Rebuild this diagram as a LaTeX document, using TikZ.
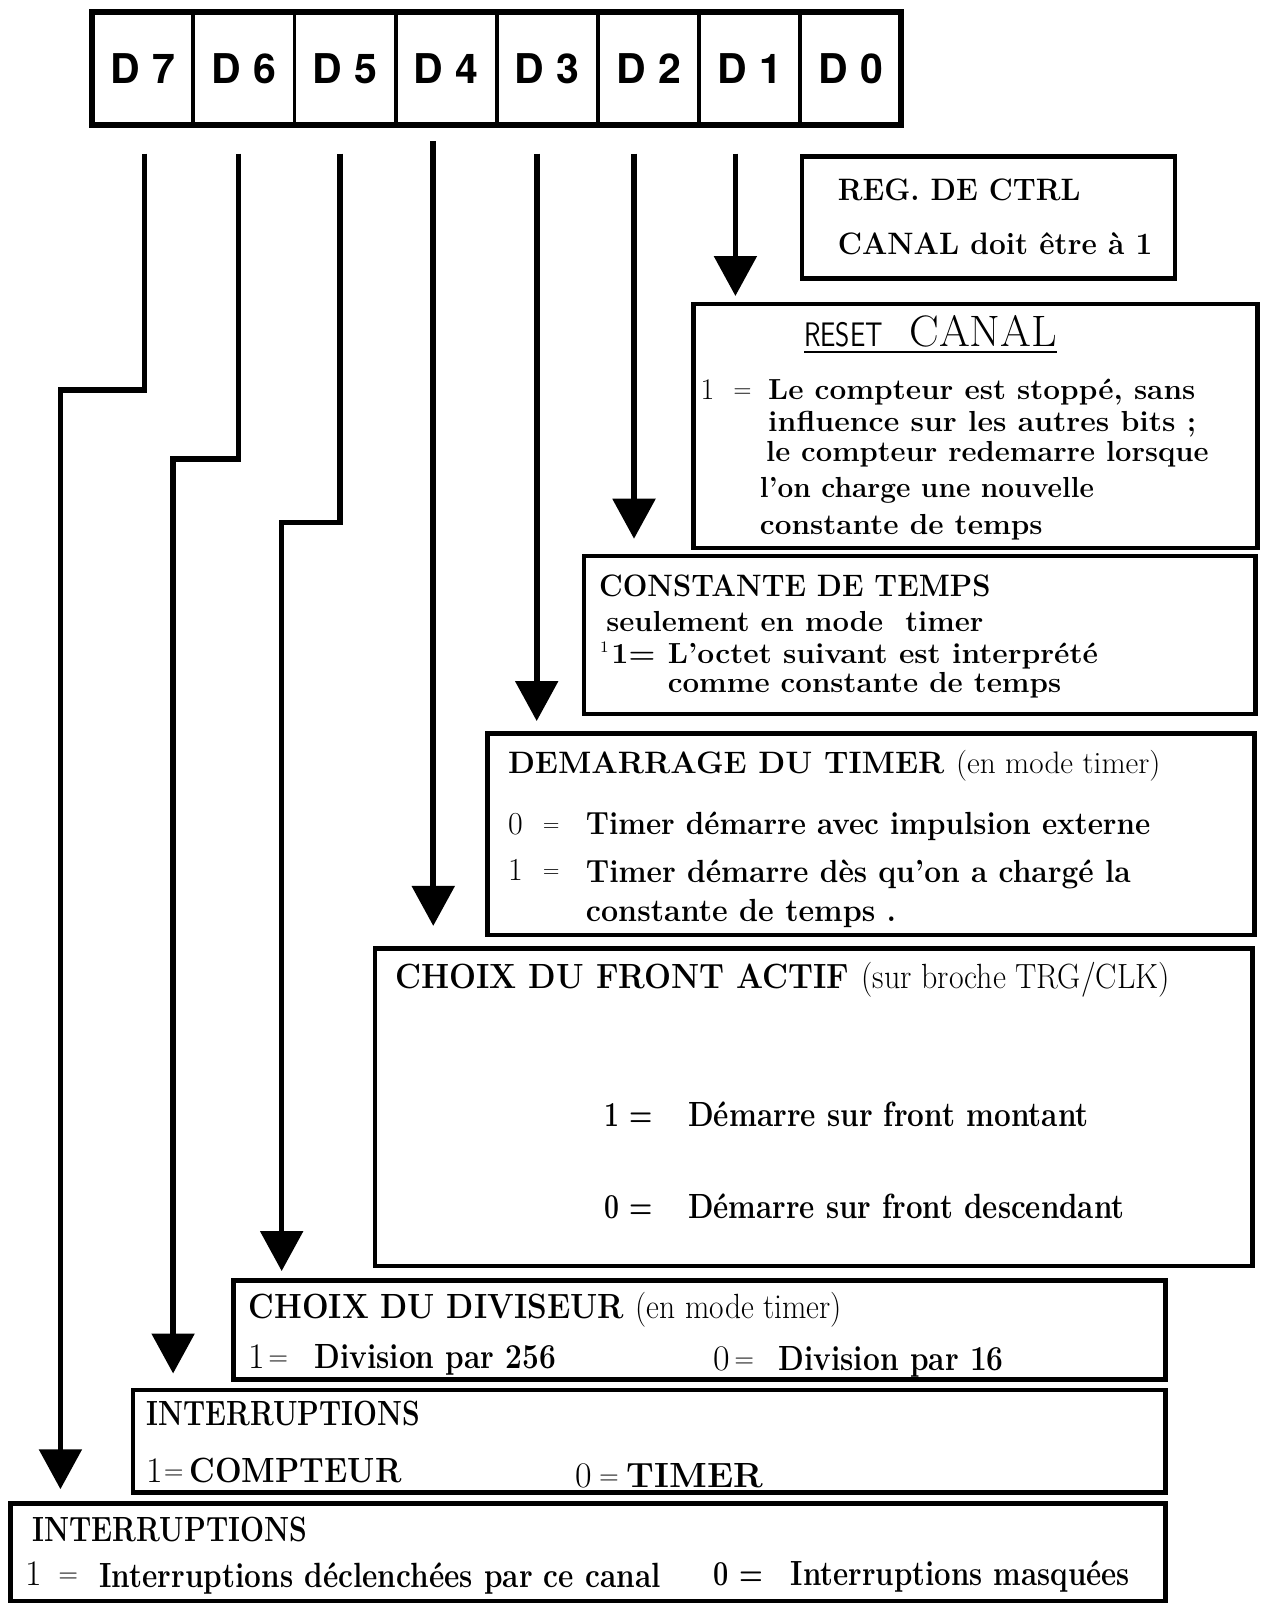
\documentclass[tikz,border=0pt]{standalone}
\usepackage{fontspec}
\usepackage{graphicx}
\newfontfamily\herosfont{TeX Gyre Heros}
\usetikzlibrary{arrows.meta,fit}
\newlength\ux \setlength\ux{0.51215pt}
\newcommand\TT[5]{\node[txt] (#1) at (#2,#3) {\resizebox{#4\ux}{\height}{#5}};}
\newcommand\TN[4]{\node[txt] (#1) at (#2,#3) {#4};}
\newcommand\fzH{\fontsize{15.5}{18}\selectfont\bfseries}
\newcommand\fzB{\fontsize{14.5}{17}\selectfont\bfseries}
\newcommand\fzD{\fontsize{16}{18}\selectfont\bfseries}
\newcommand\fzC{\fontsize{17.5}{20}\selectfont\bfseries}
\newcommand\fzM[1]{\fontsize{#1}{#1}\selectfont\mdseries}
\begin{document}
\begin{tikzpicture}[x=0.51215pt,y=-0.51215pt,
  box/.style={draw=black, line width=2.3pt, inner sep=0pt},
  cell/.style={draw=black, line width=1.9pt, inner sep=0pt},
  regbox/.style={draw=black, line width=3pt, inner sep=0pt},
  txt/.style={anchor=base west, inner sep=0pt, outer sep=0pt},
  conn/.style={line width=2.8pt, -{Triangle[width=21pt,length=20pt]}},
  uline/.style={line width=1.2pt},
  reglab/.style={font=\herosfont\bfseries\fontsize{20.5}{20.5}\selectfont, inner sep=0pt}
]
\fill[white] (0,0) rectangle (1235,1568);
\useasboundingbox (0,0) rectangle (1235,1568);

% register
\foreach \i/\lab in {0/7,1/6,2/5,3/4,4/3,5/2,6/1,7/0}{
  \node[cell, fit={({90+\i*98.75},12) ({90+(\i+1)*98.75},122)}] (c\lab) {};
  \node[reglab] (l\lab) at (c\lab.center) {D\hspace{0.3em}\lab};
}
\node[regbox, fit={(90,12) (880,122)}] (reg) {};

% Box 1
\node[box, fit={(783,153) (1147,272)}] (b1) {};
\TT{t1a}{818}{196}{237}{\fzH REG. DE CTRL}
\TT{t1b}{818}{248}{307}{\fzH CANAL doit être à 1}

% Box 2
\node[box, fit={(677,297) (1228,535)}] (b2) {};
\TT{tRESET}{785}{338}{77}{\sffamily\fontsize{17}{17}\selectfont RESET}
\TT{tCANAL}{888}{338}{144}{\fontsize{22}{22}\selectfont CANAL}
\draw[uline] ([yshift=-3pt]tRESET.base west) -- ([yshift=-3pt]tCANAL.base east);
\TN{n2a}{684}{390}{\fzM{15}1}
\TN{n2b}{716}{388}{\fzM{12}=}
\TT{t2a}{750}{390}{417}{\fzB Le compteur est stoppé, sans}
\TT{t2b}{750}{421}{418}{\fzB influence sur les autres bits ;}
\TT{t2c}{748}{451}{432}{\fzB le compteur redemarre lorsque}
\TT{t2d}{742}{486}{326}{\fzB l'on charge une nouvelle}
\TT{t2e}{742}{522}{276}{\fzB constante de temps}

% Box 3
\node[box, fit={(570,543) (1226,697)}] (b3) {};
\TT{t3a}{585}{582}{382}{\fzH CONSTANTE DE TEMPS}
\TT{t3b}{592}{617}{368}{\fzB seulement en mode\ \ timer}
\TN{t3c}{586}{637}{\fzM{8}1}
\TT{t3d}{597}{648}{43}{\fzB 1=}
\TT{t3e}{652}{648}{420}{\fzB L'octet suivant est interprété}
\TT{t3f}{652}{676}{384}{\fzB comme constante de temps}

% Box 4
\node[box, fit={(476,716) (1225,913)}] (b4) {};
\TT{t4a}{496}{755}{637}{\fzH DEMARRAGE DU TIMER {\mdseries (en mode timer)}}
\TN{t4b}{496}{815}{\fzM{16}0}
\TN{t4c}{530}{812}{\fzM{11}=}
\TT{t4d}{572}{815}{551}{\fzD Timer démarre avec impulsion externe}
\TN{t4e}{496}{860}{\fzM{16}1}
\TN{t4f}{530}{857}{\fzM{11}=}
\TT{t4g}{572}{862}{532}{\fzD Timer démarre dès qu'on a chargé la}
\TT{t4h}{572}{900}{303}{\fzD constante de temps .}

% Box 5
\node[box, fit={(366,926) (1223,1236)}] (b5) {};
\TT{t5a}{386}{965}{756}{\fzC CHOIX DU FRONT ACTIF {\mdseries (sur broche TRG/CLK)}}
\TT{t5b}{590}{1100}{47}{\fzC 1 =}
\TT{t5c}{672}{1100}{391}{\fzC Démarre sur front montant}
\TT{t5d}{590}{1190}{47}{\fzC 0 =}
\TT{t5e}{672}{1190}{426}{\fzC Démarre sur front descendant}

% Box 6
\node[box, fit={(228,1250) (1138,1347)}] (b6) {};
\TT{t6a}{243}{1287}{579}{\fzC CHOIX DU DIVISEUR {\mdseries (en mode timer)}}
\TN{t6b}{243}{1336}{\fzM{18}1}
\TN{t6c}{262}{1333}{\fzM{13}=}
\TT{t6d}{307}{1336}{236}{\fzC Division par 256}
\TN{t6e}{697}{1338}{\fzM{18}0}
\TN{t6f}{717}{1335}{\fzM{13}=}
\TT{t6g}{760}{1338}{220}{\fzC Division par 16}

% Box 7
\node[box, fit={(130,1357) (1138,1457)}] (b7) {};
\TT{t7a}{143}{1392}{267}{\fzC INTERRUPTIONS}
\TN{t7b}{143}{1447}{\fzM{18}1}
\TN{t7c}{160}{1444}{\fzM{13}=}
\TT{t7d}{185}{1447}{207}{\fzC COMPTEUR}
\TN{t7e}{562}{1452}{\fzM{18}0}
\TN{t7f}{585}{1449}{\fzM{13}=}
\TT{t7g}{612}{1452}{133}{\fzC TIMER}

% Box 8
\node[box, fit={(10,1468) (1138,1563)}] (b8) {};
\TT{t8a}{32}{1505}{268}{\fzC INTERRUPTIONS}
\TN{t8b}{25}{1548}{\fzM{18}1}
\TN{t8c}{57}{1545}{\fzM{13}=}
\TT{t8d}{97}{1550}{548}{\fzC Interruptions déclenchées par ce canal}
\TT{t8e}{697}{1548}{48}{\fzC 0 =}
\TT{t8f}{772}{1548}{331}{\fzC Interruptions masquées}

% connectors
\coordinate (s1) at (718,150); \coordinate (e1) at (718,289);
\coordinate (s2) at (619,150); \coordinate (e2) at (619,526);
\coordinate (s3) at (524,150); \coordinate (e3) at (524,704);
\coordinate (s4) at (423,138); \coordinate (e4) at (423,904);
\coordinate (s5) at (332,150); \coordinate (k5) at (275,510); \coordinate (e5) at (275,1241);
\coordinate (s6) at (233,150); \coordinate (k6) at (169,448); \coordinate (e6) at (169,1341);
\coordinate (s7) at (141,150); \coordinate (k7) at (59,381); \coordinate (e7) at (59,1454);
\draw[conn] (s1) -- (e1);
\draw[conn] (s2) -- (e2);
\draw[conn] (s3) -- (e3);
\draw[conn] (s4) -- (e4);
\draw[conn] (s5) |- (k5) -- (e5);
\draw[conn] (s6) |- (k6) -- (e6);
\draw[conn] (s7) |- (k7) -- (e7);
\end{tikzpicture}
\end{document}
